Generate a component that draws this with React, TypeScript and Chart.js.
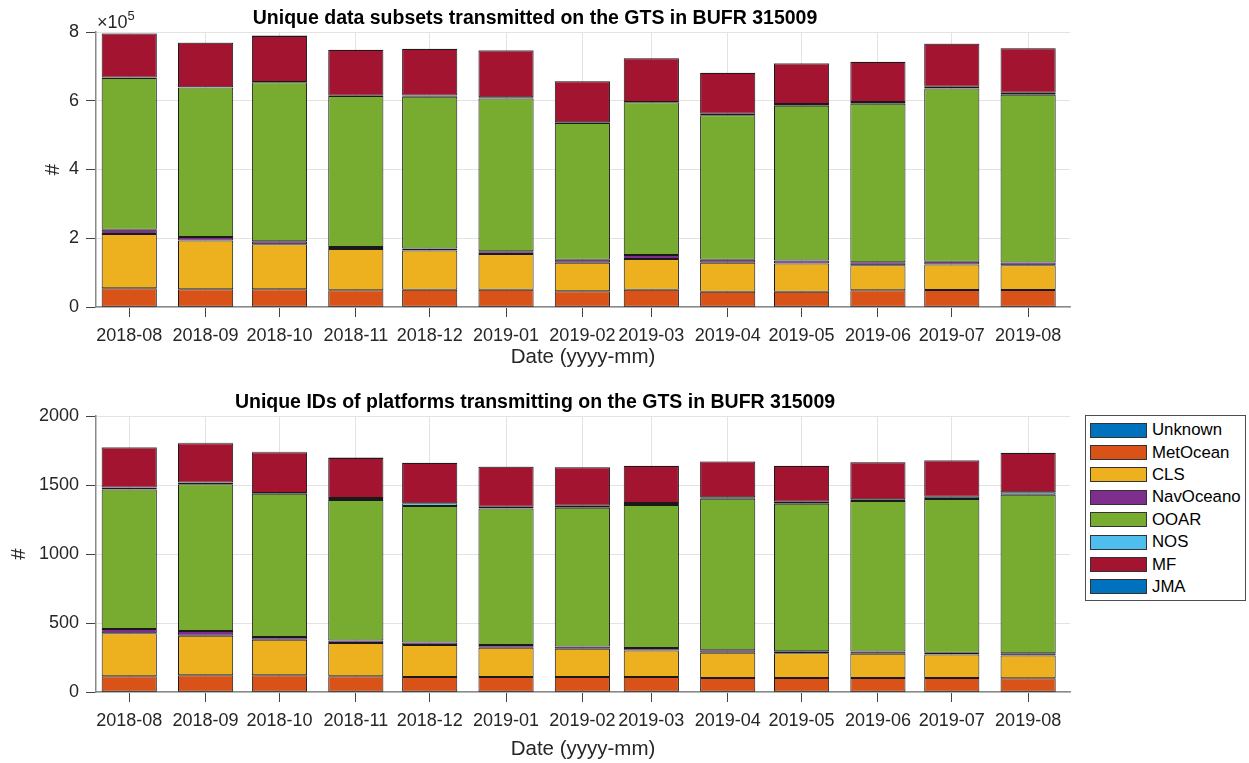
import React, { useEffect, useRef } from "react";
import { Chart, registerables } from "chart.js";

Chart.register(...registerables);

// ---------- data ----------
const months = [
  "2018-08", "2018-09", "2018-10", "2018-11", "2018-12", "2019-01", "2019-02",
  "2019-03", "2019-04", "2019-05", "2019-06", "2019-07", "2019-08",
];

const seriesNames = ["Unknown", "MetOcean", "CLS", "NavOceano", "OOAR", "NOS", "MF", "JMA"];
const seriesColors = ["#0072BD", "#D95319", "#EDB120", "#7E2F8E", "#77AC30", "#4DBEEE", "#A2142F", "#0072BD"];

// Unique data subsets (top chart)
const subsetsUnknown = [500, 500, 500, 500, 500, 500, 500, 500, 500, 500, 500, 500, 500];
const subsetsMetOcean = [54000, 51000, 51000, 48000, 50000, 50000, 45000, 50000, 44000, 44000, 48000, 49000, 49000];
const subsetsCLS = [158000, 142000, 131000, 120000, 114000, 104000, 83000, 89000, 84000, 82000, 73000, 74000, 72000];
const subsetsNavOceano = [12000, 10000, 9000, 6000, 6000, 8000, 9000, 12000, 9000, 9000, 9000, 8000, 8000];
const subsetsOOAR = [442000, 435000, 462000, 439000, 441000, 444000, 398000, 444000, 420000, 450000, 461000, 504000, 488000];
const subsetsNOS = [1000, 1000, 1000, 1000, 4000, 4000, 2000, 1000, 5000, 5000, 5000, 5000, 6000];
const subsetsMF = [128000, 129000, 134000, 133000, 135000, 136000, 119000, 127000, 118000, 118000, 116000, 125000, 129000];
const subsetsJMA = [1000, 1000, 1000, 1000, 1000, 1000, 1000, 1000, 1000, 1000, 1000, 1000, 1000];

// Unique platform IDs (bottom chart)
const idsUnknown = [1, 1, 1, 1, 1, 1, 1, 1, 1, 1, 1, 1, 1];
const idsMetOcean = [113, 120, 120, 113, 108, 108, 108, 108, 101, 101, 101, 101, 99];
const idsCLS = [311, 287, 258, 241, 232, 212, 205, 191, 183, 179, 176, 169, 164];
const idsNavOceano = [31, 34, 20, 19, 17, 20, 15, 19, 17, 14, 15, 14, 17];
const idsOOAR = [1012, 1063, 1038, 1017, 990, 988, 1007, 1036, 1099, 1070, 1091, 1114, 1149];
const idsNOS = [13, 14, 5, 15, 19, 14, 14, 15, 10, 14, 12, 16, 17];
const idsMF = [291, 284, 296, 289, 292, 289, 278, 267, 260, 258, 268, 263, 284];
const idsJMA = [3, 3, 3, 4, 2, 2, 2, 3, 2, 2, 2, 3, 3];

const topTitle = "Unique data subsets transmitted on the GTS in BUFR 315009";
const bottomTitle = "Unique IDs of platforms transmitting on the GTS in BUFR 315009";
const xTitle = "Date (yyyy-mm)";
const yTitle = "#";

// ---------- helpers ----------
const FONT = "'Liberation Sans', Arial, Helvetica, sans-serif";
const TEXT = "#262626";

const dayOf = (m: string) => {
  const [y, mo] = m.split("-").map(Number);
  return (Date.UTC(y, mo - 1, 1) - Date.UTC(2018, 7, 1)) / 86400000;
};
const dayValues = months.map(dayOf);

function buildDatasets(series: number[][]) {
  return series.map((vals, k) => ({
    label: seriesNames[k],
    data: vals.map((v, i) => ({ x: dayValues[i], y: v })),
    backgroundColor: seriesColors[k],
    borderColor: "#1a1a1a",
    borderWidth: 1,
    borderSkipped: false as const,
    barPercentage: 0.8,
    categoryPercentage: 1,
    stack: "all",
  }));
}

const exponentPlugin = {
  id: "exponentLabel",
  afterDraw(chart: any) {
    if (!chart.options.plugins.exponentLabel?.show) return;
    const ctx = chart.ctx;
    ctx.save();
    ctx.fillStyle = TEXT;
    ctx.textBaseline = "alphabetic";
    ctx.textAlign = "left";
    ctx.font = `18px ${FONT}`;
    const x0 = chart.chartArea.left + 1;
    ctx.fillText("\u00d710", x0, 28);
    const w = ctx.measureText("\u00d710").width;
    ctx.font = `13px ${FONT}`;
    ctx.fillText("5", x0 + w, 20);
    ctx.restore();
  },
};

function makeConfig(opts: {
  series: number[][];
  title: string;
  titlePadTop: number;
  titlePadBottom: number;
  yMax: number;
  yStep: number;
  yFmt: (v: number) => string;
  yTitlePad: number;
  xHeight: number;
  xTitlePadBottom: number;
  exponent: boolean;
}) {
  return {
    type: "bar" as const,
    data: { datasets: buildDatasets(opts.series) },
    plugins: [exponentPlugin],
    options: {
      responsive: false,
      animation: false as const,
      devicePixelRatio: 1,
      layout: { padding: { left: 0, right: 179, top: 0, bottom: 0 } },
      plugins: {
        legend: { display: false },
        tooltip: { enabled: false },
        exponentLabel: { show: opts.exponent },
        title: {
          display: true,
          text: opts.title,
          color: "#000",
          font: { family: FONT, size: 19.5, weight: "bold" as const, lineHeight: 1.2 },
          padding: { top: opts.titlePadTop, bottom: opts.titlePadBottom },
        },
      },
      scales: {
        x: {
          type: "linear" as const,
          offset: false,
          min: -13.5,
          max: 382,
          afterBuildTicks: (scale: any) => {
            scale.ticks = dayValues.map((v) => ({ value: v }));
          },
          afterFit: (scale: any) => {
            scale.height = opts.xHeight;
          },
          ticks: {
            autoSkip: false,
            maxRotation: 0,
            minRotation: 0,
            padding: 8,
            color: TEXT,
            font: { family: FONT, size: 18 },
            callback: (value: number) => {
              const i = dayValues.indexOf(value);
              return i >= 0 ? months[i] : "";
            },
          },
          grid: {
            offset: false,
            color: "#e3e3e3",
            tickColor: "#444",
            tickLength: 10,
            drawTicks: true,
          },
          border: { color: "#8a8a8a", width: 1.5 },
          title: {
            display: true,
            text: xTitle,
            color: TEXT,
            font: { family: FONT, size: 20.5, lineHeight: 1.2 },
            padding: { top: 0, bottom: opts.xTitlePadBottom },
          },
        },
        y: {
          stacked: true,
          min: 0,
          max: opts.yMax,
          afterFit: (scale: any) => {
            scale.width = 96;
          },
          ticks: {
            stepSize: opts.yStep,
            padding: 7,
            color: TEXT,
            font: { family: FONT, size: 18 },
            callback: (v: number) => opts.yFmt(v),
          },
          grid: {
            color: "#e3e3e3",
            tickColor: "#444",
            tickLength: 10,
            drawTicks: true,
          },
          border: { color: "#8a8a8a", width: 1.5 },
          title: {
            display: true,
            text: yTitle,
            color: TEXT,
            font: { family: FONT, size: 20.5, lineHeight: 1.2 },
            padding: { top: opts.yTitlePad, bottom: 0 },
          },
        },
      },
    },
  };
}

function ChartCanvas({ config, width, height, top }: { config: any; width: number; height: number; top: number }) {
  const ref = useRef<HTMLCanvasElement | null>(null);
  useEffect(() => {
    if (!ref.current) return;
    const chart = new Chart(ref.current, config);
    return () => chart.destroy();
  }, [config]);
  return (
    <canvas
      ref={ref}
      width={width}
      height={height}
      style={{ position: "absolute", left: 0, top, width, height }}
    />
  );
}

const topConfig = makeConfig({
  series: [subsetsUnknown, subsetsMetOcean, subsetsCLS, subsetsNavOceano, subsetsOOAR, subsetsNOS, subsetsMF, subsetsJMA],
  title: topTitle,
  titlePadTop: 6.8,
  titlePadBottom: 1.8,
  yMax: 800000,
  yStep: 200000,
  yFmt: (v) => String(v / 100000),
  yTitlePad: 40.7,
  xHeight: 73,
  xTitlePadBottom: 10.2,
  exponent: true,
});

const bottomConfig = makeConfig({
  series: [idsUnknown, idsMetOcean, idsCLS, idsNavOceano, idsOOAR, idsNOS, idsMF, idsJMA],
  title: bottomTitle,
  titlePadTop: 10.8,
  titlePadBottom: 1.8,
  yMax: 2000,
  yStep: 500,
  yFmt: (v) => String(v),
  yTitlePad: 6.7,
  xHeight: 71,
  xTitlePadBottom: 1.7,
  exponent: false,
});

function Legend() {
  return (
    <div
      style={{
        position: "absolute",
        left: 1085,
        top: 415,
        width: 159,
        height: 181,
        border: "1px solid #4d4d4d",
        background: "#fff",
        paddingTop: 3,
        boxSizing: "content-box",
        fontFamily: FONT,
        fontSize: 16.8,
        color: "#000",
      }}
    >
      {seriesNames.map((n, i) => (
        <div key={n} style={{ height: 22.4, display: "flex", alignItems: "center", paddingLeft: 4 }}>
          <span
            style={{
              display: "inline-block",
              width: 55,
              height: 13,
              background: seriesColors[i],
              border: "1px solid #333",
              marginRight: 5,
            }}
          />
          <span>{n}</span>
        </div>
      ))}
    </div>
  );
}

export default function App() {
  useEffect(() => {
    document.body.style.margin = "0";
    document.body.style.overflow = "hidden";
  }, []);
  return (
    <div style={{ position: "absolute", left: 0, top: 0, width: 1249, height: 763, background: "#fff", overflow: "hidden" }}>
      <ChartCanvas config={topConfig} width={1249} height={380} top={0} />
      <ChartCanvas config={bottomConfig} width={1249} height={383} top={380} />
      <Legend />
    </div>
  );
}
